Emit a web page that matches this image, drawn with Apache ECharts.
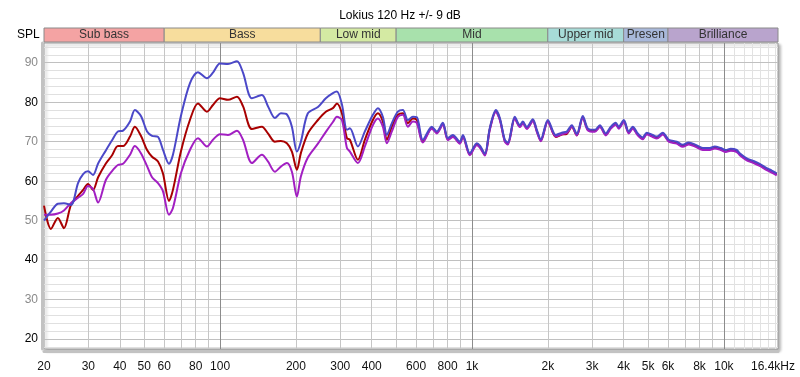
<!DOCTYPE html>
<html>
<head>
<meta charset="utf-8">
<title>Lokius 120 Hz +/- 9 dB</title>
<script src="https://cdn.jsdelivr.net/npm/echarts@6.0.0/dist/echarts.min.js"></script>
<style>
  html, body { margin: 0; padding: 0; background: #fff; }
  #chart { width: 800px; height: 377px; }
</style>
</head>
<body>
<div id="chart"></div>
<script>
// frequency points (Hz) shared by the three curves
const freqHz = [
  20, 21.3, 22.7, 24, 25.6, 27.3, 28.6, 29.9, 31.3, 32.8,
  35.2, 37.2, 39.3, 41.2, 43.9, 45.9, 48.5, 51.3, 53.7, 56.7,
  59.3, 62.7, 65, 69.9, 75.9, 81.7, 88.7, 93.7, 99.9, 107.5,
  116.7, 123.3, 133.8, 146.6, 154.9, 165.1, 174.4, 184.2, 192.8, 201.8,
  209.3, 223.1, 244.6, 263, 280.5, 290.9, 304.5, 318.8, 327.6, 352.5,
  375.7, 404.2, 423.1, 442.8, 459.3, 480.8, 507.9, 531.6, 556.5, 582.5,
  604.2, 638.3, 692.9, 725.3, 766.2, 802.1, 839.6, 895, 919.9, 980.7,
  1045, 1075, 1125, 1177, 1244, 1290, 1350, 1388, 1479, 1549,
  1592, 1651, 1744, 1809, 1876, 2000, 2152, 2273, 2379, 2491,
  2607, 2754, 2882, 3074, 3218, 3399, 3557, 3723, 3826, 4005,
  4192, 4348, 4551, 4763, 4941, 5220, 5415, 5720, 6042, 6500,
  6867, 7253, 7733, 8245, 8791, 9199, 9719, 10173, 10648, 11247,
  11560, 12325, 13020, 13877, 14793, 15485, 16207
];

const blueDb = [
  50.0, 52.3, 54.3, 54.4, 54.0, 59.5, 61.8, 62.5, 61.6, 64.5,
  67.8, 70.3, 72.6, 72.8, 75.1, 78.0, 76.5, 72.6, 71.5, 71.2,
  68.0, 64.4, 66.7, 76.5, 84.8, 87.6, 86.1, 87.5, 89.8, 89.7,
  90.4, 87.5, 81.0, 81.8, 79.0, 76.0, 77.2, 76.9, 73.8, 67.5,
  70.0, 77.2, 78.8, 81.0, 82.3, 82.7, 79.5, 73.0, 73.4, 68.8,
  72.6, 76.8, 78.5, 76.3, 71.7, 74.7, 77.6, 78.0, 75.5, 76.3,
  76.2, 70.5, 73.8, 72.6, 74.8, 70.9, 71.7, 70.0, 71.7, 67.1,
  69.6, 69.0, 67.0, 73.5, 78.0, 76.0, 70.5, 69.8, 76.3, 74.2,
  75.1, 73.7, 75.7, 73.0, 70.6, 75.5, 71.7, 72.3, 72.6, 74.2,
  72.0, 76.5, 73.4, 73.0, 74.2, 72.1, 73.8, 74.8, 73.8, 75.5,
  72.6, 73.8, 72.1, 71.1, 72.3, 71.7, 71.3, 72.3, 70.5, 70.0,
  69.2, 69.8, 69.2, 68.4, 68.4, 68.8, 68.4, 67.9, 68.2, 67.9,
  67.1, 65.8, 65.2, 64.4, 63.3, 62.7, 62.0
];

const redDb = [
  53.8, 47.9, 50.7, 48.1, 54.0, 56.3, 57.8, 59.3, 57.8, 61.0,
  64.5, 66.5, 68.9, 68.9, 71.3, 73.8, 71.5, 67.9, 66.2, 65.0,
  62.0, 55.0, 57.8, 67.5, 75.5, 79.7, 77.6, 79.3, 81.0, 80.6,
  81.4, 79.0, 73.2, 73.8, 72.1, 70.0, 70.2, 69.6, 67.5, 62.9,
  67.1, 72.1, 75.5, 77.6, 78.5, 79.7, 77.2, 70.9, 70.5, 65.4,
  70.5, 75.5, 77.2, 75.1, 70.5, 73.8, 76.8, 77.2, 74.7, 75.9,
  75.5, 70.0, 73.5, 72.3, 74.5, 70.6, 71.4, 69.7, 71.4, 66.8,
  69.3, 68.7, 66.7, 73.2, 77.7, 75.7, 70.2, 69.5, 76.0, 73.9,
  74.8, 73.4, 75.4, 72.7, 70.3, 75.2, 71.2, 71.8, 72.0, 73.8,
  71.6, 76.2, 73.1, 72.7, 73.9, 71.8, 73.5, 74.5, 73.5, 75.2,
  72.3, 73.5, 71.8, 70.8, 72.0, 71.4, 71.0, 72.0, 70.2, 69.7,
  68.9, 69.5, 68.9, 68.1, 68.1, 68.5, 68.1, 67.6, 67.9, 67.6,
  66.8, 65.5, 64.9, 64.1, 63.0, 62.4, 61.7
];

const purpleDb = [
  51.5, 51.5, 51.8, 52.6, 54.5, 55.8, 56.8, 58.8, 58.0, 54.6,
  60.3, 62.5, 64.1, 64.4, 66.7, 68.9, 67.1, 63.8, 61.0, 59.5,
  57.5, 51.5, 53.2, 62.0, 67.9, 70.9, 68.8, 70.5, 71.9, 71.7,
  72.8, 70.5, 64.6, 66.7, 65.0, 62.4, 63.7, 64.6, 62.4, 56.1,
  61.2, 66.0, 69.5, 72.5, 75.0, 76.3, 75.5, 68.4, 67.5, 64.6,
  68.8, 74.2, 75.9, 73.8, 69.6, 72.6, 76.3, 76.8, 73.8, 75.1,
  74.7, 69.8, 73.3, 72.1, 74.3, 70.4, 71.2, 69.5, 71.2, 66.6,
  69.1, 68.5, 66.5, 73.0, 77.5, 75.5, 70.0, 69.3, 75.8, 73.7,
  74.6, 73.2, 75.2, 72.5, 70.1, 75.0, 71.3, 71.9, 72.2, 73.8,
  71.6, 76.0, 72.9, 72.5, 73.7, 71.6, 73.3, 74.3, 73.3, 75.0,
  72.1, 73.3, 71.6, 70.6, 71.8, 71.2, 70.8, 71.8, 70.0, 69.5,
  68.7, 69.3, 68.7, 67.9, 67.9, 68.3, 67.9, 67.4, 67.7, 67.4,
  66.6, 65.3, 64.7, 63.9, 62.8, 62.2, 61.5
];

// frequency bands shown above the plot
const bandNames = ['Sub bass', 'Bass', 'Low mid', 'Mid', 'Upper mid', 'Presence', 'Brilliance'];
const bandEdgesHz = [20, 60, 250, 500, 2000, 4000, 6000, 16400];
const bandColors = ['#f4a3a3', '#f7dd9d', '#d4eaa3', '#a8e1ac', '#a7dcd8', '#a8b8da', '#b9a4cd'];

// axis ticks
const xLabelHz = [20, 30, 40, 50, 60, 80, 100, 200, 300, 400, 600, 800,
  1000, 2000, 3000, 4000, 5000, 6000, 8000, 10000, 16400];
const xGridHz = [30, 40, 50, 60, 70, 80, 90, 200, 300, 400, 500, 600, 700, 800, 900,
  2000, 3000, 4000, 5000, 6000, 7000, 8000, 9000];
const xDecadeHz = [100, 1000, 10000];
const xFineHz = [11000, 12000, 13000, 14000, 15000, 16000];
const yMinorDb = [18, 20, 22, 24, 26, 28, 30, 32, 34, 36, 38, 40, 42, 44, 46, 48, 50, 52, 54, 56,
  58, 60, 62, 64, 66, 68, 70, 72, 74, 76, 78, 80, 82, 84, 86, 88, 90, 92, 94];
const yMajorDb = [20, 30, 40, 50, 60, 70, 80, 90];

const FONT = '"Liberation Sans", Arial, sans-serif';
const LOG_MIN = Math.log10(20);
const LOG_MAX = Math.log10(16400);
const Y_MIN = 17.5;
const Y_MAX = 95;

const lg = arr => arr.map(v => Math.log10(v));
const toPoints = dbs => freqHz.map((f, i) => [Math.log10(f), dbs[i]]);

function hzLabel(v) {
  const f = Math.pow(10, v);
  let best = xLabelHz[0];
  xLabelHz.forEach(h => { if (Math.abs(h - f) < Math.abs(best - f)) best = h; });
  if (best === 16400) return '{end|16.4kHz}';
  return best >= 1000 ? (best / 1000) + 'k' : String(best);
}

const chart = echarts.init(document.getElementById('chart'));

// hidden helper x axis (no labels, only grid lines)
const gridX = (values, color, z) => ({
  type: 'value', gridIndex: 0, min: LOG_MIN, max: LOG_MAX, position: 'top', z: z,
  axisLine: { show: false }, axisLabel: { show: false },
  axisTick: { show: false, customValues: lg(values) },
  splitLine: { show: true, lineStyle: { color: color, width: 1 } }
});

const option = {
  animation: false,
  backgroundColor: '#ffffff',
  title: {
    text: 'Lokius 120 Hz +/- 9 dB',
    left: 'center',
    top: 5,
    textStyle: { fontSize: 12, fontWeight: 'normal', color: '#000', fontFamily: FONT }
  },
  graphic: [{
    type: 'text', left: 17, top: 29,
    style: { text: 'SPL', fontSize: 12, fill: '#000', fontFamily: FONT }
  }],
  grid: [
    {
      left: 44, right: 22, top: 43, bottom: 28,
      outerBoundsMode: 'none',
      show: true, backgroundColor: '#ffffff',
      borderColor: '#9a9a9a', borderWidth: 1,
      shadowColor: 'rgba(0,0,0,0.3)', shadowBlur: 3, shadowOffsetX: 2, shadowOffsetY: 2
    },
    { left: 44, right: 22, top: 28, height: 14, outerBoundsMode: 'none' }
  ],
  xAxis: [
    {
      type: 'value', gridIndex: 0, min: LOG_MIN, max: LOG_MAX, position: 'bottom', z: 1,
      offset: 2,
      axisLine: { show: true, lineStyle: { color: '#c2c2c2', width: 3 } },
      axisTick: { show: false, customValues: lg(xGridHz) },
      splitLine: { show: true, lineStyle: { color: '#c6c6c6', width: 1 } },
      axisLabel: {
        customValues: lg(xLabelHz),
        showMinLabel: true, showMaxLabel: true,
        margin: 10, fontSize: 12, color: '#111', fontFamily: FONT,
        formatter: hzLabel,
        rich: { end: { fontSize: 12, color: '#111', fontFamily: FONT, padding: [0, 10, 0, 0] } }
      }
    },
    gridX(xFineHz, '#e2e2e2', 0),
    gridX(xDecadeHz, '#8c8c8c', 1),
    {
      type: 'value', gridIndex: 1, min: LOG_MIN, max: LOG_MAX, show: false
    }
  ],
  yAxis: [
    {
      type: 'value', gridIndex: 0, min: Y_MIN, max: Y_MAX, position: 'left', z: 0,
      offset: 2,
      axisLine: { show: true, lineStyle: { color: '#c2c2c2', width: 3 } },
      axisTick: { show: false, customValues: yMinorDb },
      axisLabel: { show: false },
      splitLine: { show: true, lineStyle: { color: '#e0e0e0', width: 1 } }
    },
    {
      type: 'value', gridIndex: 0, min: Y_MIN, max: Y_MAX, position: 'left', z: 1,
      axisLine: { show: false },
      axisTick: { show: false, customValues: yMajorDb },
      splitLine: { show: true, lineStyle: { color: '#c0c0c0', width: 1 } },
      axisLabel: {
        customValues: yMajorDb,
        margin: 6, fontFamily: FONT, fontSize: 12,
        formatter: v => {
          const d = Math.round(v);
          return (d % 20 === 0 ? '{b|' : '{g|') + d + '}';
        },
        rich: {
          b: { color: '#000', fontSize: 12, fontFamily: FONT },
          g: { color: '#8a8a8a', fontSize: 12, fontFamily: FONT }
        }
      }
    },
    { type: 'value', gridIndex: 1, min: 0, max: 1, show: false }
  ],
  series: [
    {
      type: 'custom',
      xAxisIndex: 3, yAxisIndex: 2,
      data: bandNames.map((n, i) => [Math.log10(bandEdgesHz[i]), Math.log10(bandEdgesHz[i + 1]), i]),
      renderItem: (params, api) => {
        const p0 = api.coord([api.value(0), 1]);
        const p1 = api.coord([api.value(1), 0]);
        const i = api.value(2);
        const w = p1[0] - p0[0];
        return {
          type: 'rect',
          shape: { x: p0[0], y: p0[1], width: w, height: p1[1] - p0[1] },
          style: { fill: bandColors[i], stroke: '#8a8a8a', lineWidth: 1 },
          textContent: {
            style: {
              text: bandNames[i], fill: '#333', fontSize: 12, fontFamily: FONT,
              overflow: 'truncate', width: w - 2, ellipsis: ''
            }
          },
          textConfig: { position: 'inside' }
        };
      }
    },
    {
      name: 'red', type: 'line', xAxisIndex: 0, yAxisIndex: 0,
      data: toPoints(redDb), showSymbol: false, smooth: 0.3, z: 3,
      lineStyle: { color: '#a80000', width: 2 }, itemStyle: { color: '#a80000' }
    },
    {
      name: 'purple', type: 'line', xAxisIndex: 0, yAxisIndex: 0,
      data: toPoints(purpleDb), showSymbol: false, smooth: 0.3, z: 4,
      lineStyle: { color: '#a21fc2', width: 2 }, itemStyle: { color: '#a21fc2' }
    },
    {
      name: 'blue', type: 'line', xAxisIndex: 0, yAxisIndex: 0,
      data: toPoints(blueDb), showSymbol: false, smooth: 0.3, z: 5,
      lineStyle: { color: '#4b48c8', width: 2 }, itemStyle: { color: '#4b48c8' }
    }
  ]
};

chart.setOption(option);
</script>
</body>
</html>
